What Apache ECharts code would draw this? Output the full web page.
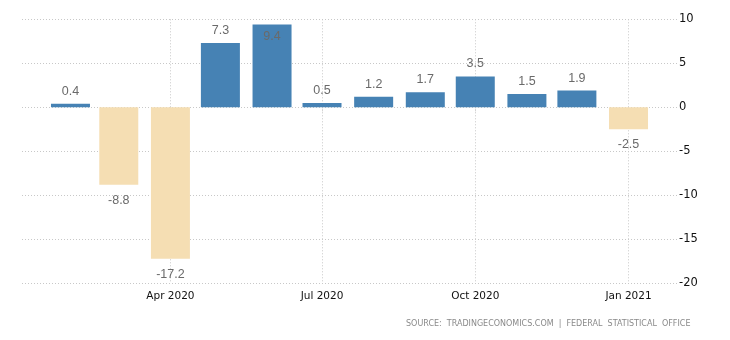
<!DOCTYPE html>
<html><head><meta charset="utf-8">
<script src="https://cdn.jsdelivr.net/npm/echarts@6/dist/echarts.min.js"></script>
<style>html,body{margin:0;padding:0;background:#fff}#c{width:730px;height:340px}</style>
</head><body><div id="c"></div>
<script>
// Monthly data, Feb 2020 .. Jan 2021
const months = ['2020-02-01','2020-03-01','2020-04-01','2020-05-01','2020-06-01','2020-07-01','2020-08-01','2020-09-01','2020-10-01','2020-11-01','2020-12-01','2021-01-01'];
const values = [0.4, -8.8, -17.2, 7.3, 9.4, 0.5, 1.2, 1.7, 3.5, 1.5, 1.9, -2.5];
const tickDates = ['2020-04-01','2020-07-01','2020-10-01','2021-01-01'];
const yTicks = [-20, -15, -10, -5, 0, 5, 10];
const sourceText = 'SOURCE:  TRADINGECONOMICS.COM  |  FEDERAL  STATISTICAL  OFFICE';

const MON = ['Jan','Feb','Mar','Apr','May','Jun','Jul','Aug','Sep','Oct','Nov','Dec'];
const ts = s => { const p = s.split('-').map(Number); return Date.UTC(p[0], p[1]-1, p[2]); };
const DAY = 86400000;

const data = months.map((m, i) => {
  const v = values[i];
  const item = { value: [ts(m), v], itemStyle: { color: v >= 0 ? '#4682B4' : '#F5DEB3' } };
  if (v < 0) item.label = { position: 'bottom', distance: 9 };
  else if (v > 8) item.label = { position: 'insideTop', distance: 5 };
  return item;
});

const chart = echarts.init(document.getElementById('c'), null, { renderer: 'canvas' });
chart.setOption({
  animation: false,
  grid: { left: 22, right: 53, top: 19.3, bottom: 56.7, containLabel: false },
  xAxis: {
    type: 'value',
    scale: true,
    min: ts('2020-02-01') - 29.1 * DAY,
    max: ts('2021-01-01') + 29.1 * DAY,
    axisLine: { show: false },
    axisTick: { show: true, length: 4, customValues: tickDates.map(ts), lineStyle: { color: '#c8c8c8', type: [1, 2] } },
    axisLabel: {
      customValues: tickDates.map(ts),
      margin: 7,
      color: '#111',
      fontFamily: 'DejaVu Sans',
      fontSize: 10.5,
      formatter: v => { const d = new Date(v); return MON[d.getUTCMonth()] + ' ' + d.getUTCFullYear(); }
    },
    splitLine: { show: true, lineStyle: { color: '#c8c8c8', type: [1, 2], width: 1 } }
  },
  yAxis: {
    type: 'value',
    position: 'right',
    min: yTicks[0], max: yTicks[yTicks.length - 1], interval: 5,
    axisLine: { show: false },
    axisTick: { show: false },
    axisLabel: { margin: 2, color: '#111', fontFamily: 'DejaVu Sans', fontSize: 11.5 },
    splitLine: { show: true, lineStyle: { color: '#c8c8c8', type: [1, 2], width: 1 } }
  },
  series: [{
    type: 'bar',
    barWidth: 39,
    data: data,
    label: {
      show: true,
      position: 'top',
      distance: 6,
      color: '#6a6a6a',
      fontFamily: 'Liberation Sans',
      fontSize: 12.5,
      formatter: p => String(p.value[1])
    }
  }],
  graphic: [{
    type: 'text',
    left: 406,
    top: 320,
    style: { text: sourceText, fill: '#8a8a8a', font: '8px "DejaVu Sans"' }
  }]
});
</script></body></html>
